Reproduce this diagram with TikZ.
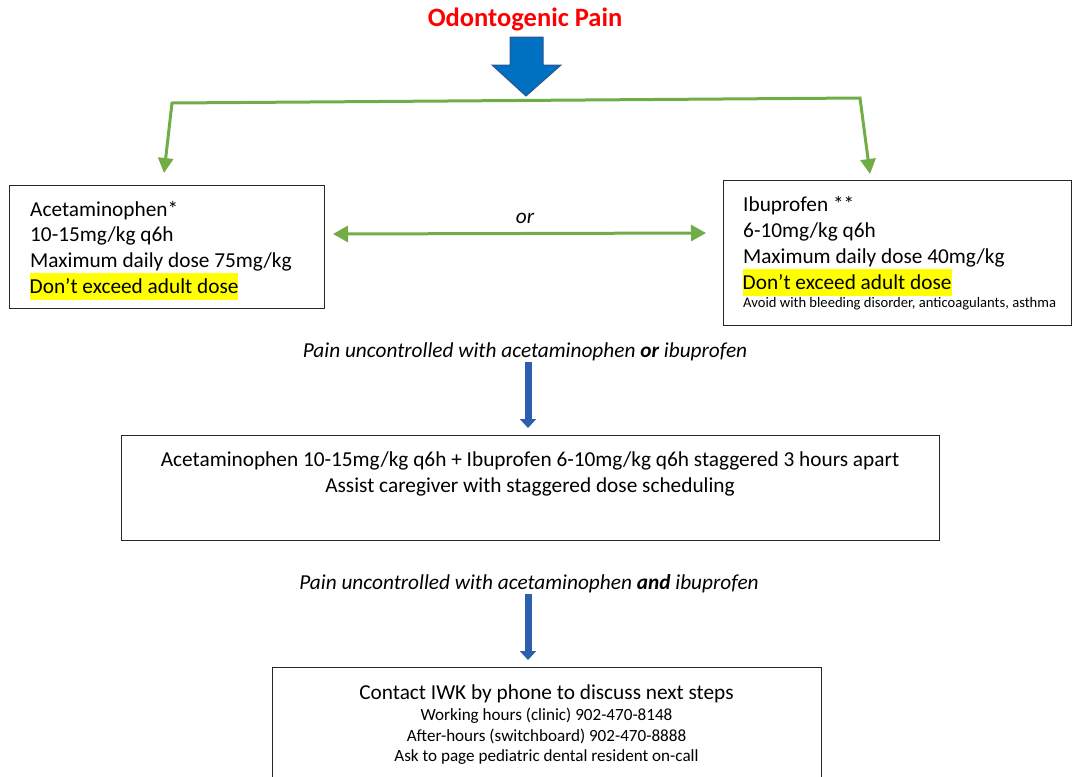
\documentclass[tikz,border=0pt]{standalone}
\usepackage{fontspec}
\setmainfont{Carlito}
\usetikzlibrary{arrows.meta}
\definecolor{titlered}{HTML}{FF0000}
\definecolor{blockblue}{HTML}{0070C0}
\definecolor{blockedge}{HTML}{2F528F}
\definecolor{arrowblue}{HTML}{2E5FAE}
\definecolor{leafgreen}{HTML}{70AD47}
\definecolor{hlyellow}{HTML}{FFFF00}
\newcommand{\hlmark}[1]{{\setlength\fboxsep{0pt}\colorbox{hlyellow}{\rule[-6.5pt]{0pt}{26.5pt}#1}}}
\tikzset{
  box/.style={draw=black!85, line width=1.2pt, inner sep=0pt, anchor=north west},
  bigtxt/.style={font=\fontsize{21.3}{25}\selectfont, inner sep=0pt},
  italtxt/.style={font=\fontsize{21.3}{25}\selectfont\itshape, inner sep=0pt},
  smalltxt/.style={font=\fontsize{17.1}{20}\selectfont, inner sep=0pt},
  tinytxt/.style={font=\fontsize{14.6}{17}\selectfont, inner sep=0pt},
  greenarrow/.style={draw=leafgreen, line width=3pt},
  bluearrow/.style={draw=arrowblue, line width=7pt, -{Triangle[length=9pt,width=16pt]}},
}
\begin{document}
\begin{tikzpicture}[x=1pt,y=-1pt]
\useasboundingbox (0,0) rectangle (1072,777);
% title
\node[font=\fontsize{26.5}{30}\selectfont\bfseries, text=titlered, inner sep=0pt, anchor=base] (title) at (525,26.5) {Odontogenic Pain};
% block arrow
\draw[fill=blockblue, draw=blockedge, line width=1pt, line join=miter]
  (510,37) -- (543,37) -- (543,65) -- (561,65) -- (526,96) -- (492,65) -- (510,65) -- cycle;
% boxes
\node[box, minimum width=315pt, minimum height=123pt] (acetbox) at (9,185) {};
\node[box, minimum width=348pt, minimum height=145pt] (ibubox) at (723,180) {};
\node[box, minimum width=818pt, minimum height=105pt] (combobox) at (121,435) {};
\node[box, minimum width=549pt, minimum height=130pt] (callbox) at (272,667) {};
% green branch arrows
\coordinate (lefttip) at (164,173);
\coordinate (leftcorner) at (172,103);
\coordinate (rightcorner) at (860,98);
\coordinate (righttip) at (870,174);
\draw[greenarrow, line join=miter, {Triangle[length=15pt,width=15pt]}-{Triangle[length=15pt,width=15pt]}]
  (lefttip) -- (leftcorner) -- (rightcorner) -- (righttip);
% or arrow
\coordinate (orleft) at (333,234);
\coordinate (orright) at (706,233);
\draw[greenarrow, {Triangle[length=15pt,width=16pt]}-{Triangle[length=15pt,width=16pt]}] (orleft) -- (orright);
\node[italtxt, anchor=base] (ortxt) at (525,223) {or};
% acetaminophen text
\node[bigtxt, anchor=base west] (a1) at (30,216) {Acetaminophen*};
\node[bigtxt, anchor=base west] (a2) at (30,241) {10-15mg/kg q6h};
\node[bigtxt, anchor=base west] (a3) at (30,267) {Maximum daily dose 75mg/kg};
\node[bigtxt, anchor=base west] (a4) at (29.5,293) {\hlmark{Don’t exceed adult dose}};
% ibuprofen text
\node[bigtxt, anchor=base west] (i1) at (743,211) {Ibuprofen **};
\node[bigtxt, anchor=base west] (i2) at (743,237) {6-10mg/kg q6h};
\node[bigtxt, anchor=base west] (i3) at (743,263) {Maximum daily dose 40mg/kg};
\node[bigtxt, anchor=base west] (i4) at (742.5,289) {\hlmark{Don’t exceed adult dose}};
\node[tinytxt, anchor=base west] (i5) at (743,307.5) {Avoid with bleeding disorder, anticoagulants, asthma};
% first condition
\node[italtxt, anchor=base] (cond1) at (525,357) {Pain uncontrolled with acetaminophen \textbf{or} ibuprofen};
\coordinate (arr1top) at (528,362);
\coordinate (arr1tip) at (528,428);
\draw[bluearrow] (arr1top) -- (arr1tip);
% combo text
\node[bigtxt, anchor=base] (c1) at (530,466.7) {Acetaminophen 10-15mg/kg q6h + Ibuprofen 6-10mg/kg q6h staggered 3 hours apart};
\node[bigtxt, anchor=base] (c2) at (530,492.7) {Assist caregiver with staggered dose scheduling};
% second condition
\node[italtxt, anchor=base] (cond2) at (529,589) {Pain uncontrolled with acetaminophen \textbf{and} ibuprofen};
\coordinate (arr2top) at (528,594);
\coordinate (arr2tip) at (528,660);
\draw[bluearrow] (arr2top) -- (arr2tip);
% call text
\node[bigtxt, anchor=base] (k1) at (546.5,699.3) {Contact IWK by phone to discuss next steps};
\node[smalltxt, anchor=base] (k2) at (546.5,720) {Working hours (clinic) 902-470-8148};
\node[smalltxt, anchor=base] (k3) at (546.5,741.5) {After-hours (switchboard) 902-470-8888};
\node[smalltxt, anchor=base] (k4) at (546.5,761.5) {Ask to page pediatric dental resident on-call};
\end{tikzpicture}
\end{document}
